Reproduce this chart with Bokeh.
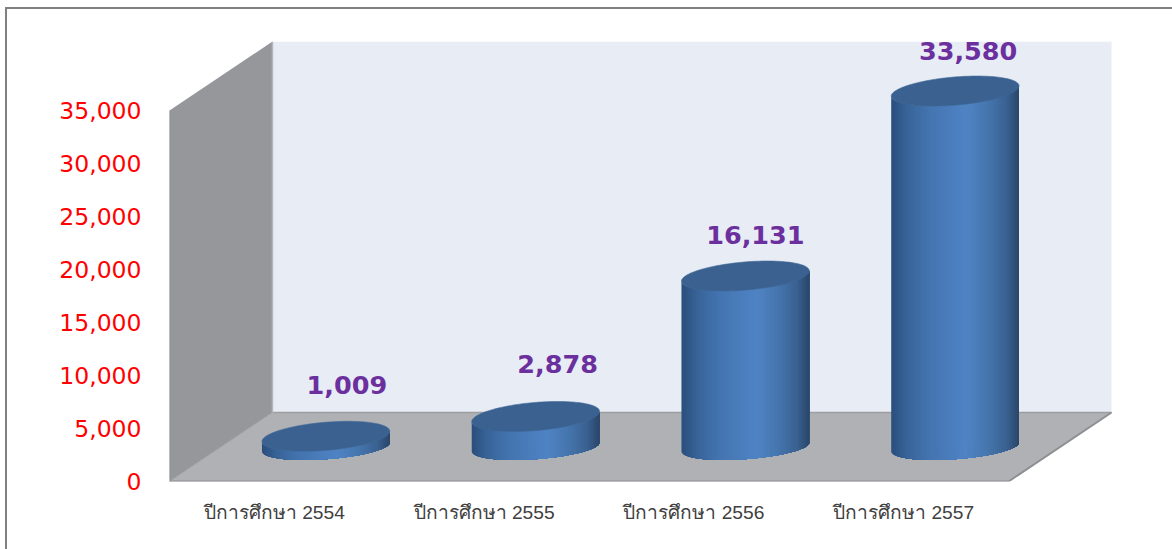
import numpy as np
from bokeh.plotting import figure
from bokeh.embed import file_html
from bokeh.resources import INLINE
from bokeh.models import ColumnDataSource, FixedTicker, Range1d
from bokeh.core.properties import value

categories = ["ปีการศึกษา 2554", "ปีการศึกษา 2555", "ปีการศึกษา 2556", "ปีการศึกษา 2557"]
students = [1009, 2878, 16131, 33580]
value_ticks = [0, 5000, 10000, 15000, 20000, 25000, 30000, 35000]
label_texts = ["1,009", "2,878", "16,131", "33,580"]

# ---- layout: one category band and the axis maximum on screen
BAND_PX = 209.75
AXIS_MAX = 35000
AXIS_PX = 371.0
# the figure sits at (7, 9) inside the page; its left and top CSS borders are the chart-area border
FIG_X, FIG_Y = 7, 9
FRAME_L, FRAME_T, FRAME_W, FRAME_H = 169 - FIG_X, 0, 1172 - 169, 481 - FIG_Y
UX = 1 / BAND_PX
UY = AXIS_MAX / AXIS_PX
DEPTH_X, DEPTH_Y = 103 * UX, 69 * UY
WALL_W = len(categories)

p = figure(width=1172 - FIG_X, height=549 - FIG_Y, output_backend="svg", toolbar_location=None,
           x_range=Range1d(0, FRAME_W * UX), y_range=Range1d(0, FRAME_H * UY),
           frame_width=FRAME_W, frame_height=FRAME_H,
           min_border_left=FRAME_L, min_border_top=FRAME_T, min_border_right=0, min_border_bottom=68,
           background_fill_color="white", border_fill_color="white",
           styles={"position": "absolute", "left": "5px", "top": "7px", "box-sizing": "content-box",
                   "border-left": "2px solid #808080", "border-top": "2px solid #808080"})
p.outline_line_color = None
p.grid.visible = False

# axes
p.yaxis.ticker = FixedTicker(ticks=value_ticks)
p.yaxis.major_label_overrides = {v: f"{v:,}" for v in value_ticks}
p.yaxis.major_label_text_color = "#FF0000"
p.yaxis.major_label_text_font = "DejaVu Sans"
p.yaxis.major_label_text_font_size = "23.5px"
p.yaxis.major_label_standoff = 22
p.yaxis.axis_line_color = None
p.yaxis.major_tick_line_color = None
p.yaxis.minor_tick_line_color = None

band_centres = [i + 0.5 for i in range(len(categories))]
p.xaxis.ticker = FixedTicker(ticks=band_centres)
p.xaxis.major_label_overrides = dict(zip(band_centres, categories))
p.xaxis.major_label_text_color = "#404040"
p.xaxis.major_label_text_font = "Liberation Sans"
p.xaxis.major_label_text_font_size = "19.2px"
p.xaxis.major_label_standoff = 14
p.xaxis.axis_line_color = None
p.xaxis.major_tick_line_color = None
p.xaxis.minor_tick_line_color = None

# back wall, side wall, floor
p.patch([DEPTH_X, DEPTH_X + WALL_W, DEPTH_X + WALL_W, DEPTH_X],
        [DEPTH_Y, DEPTH_Y, DEPTH_Y + AXIS_MAX, DEPTH_Y + AXIS_MAX],
        fill_color="#E8ECF5", line_color=None)
p.patch([0, DEPTH_X, DEPTH_X, 0],
        [0, DEPTH_Y, DEPTH_Y + AXIS_MAX, AXIS_MAX],
        fill_color="#96979A", line_color=None)
p.patch([0, DEPTH_X, DEPTH_X + WALL_W, WALL_W],
        [0, DEPTH_Y, DEPTH_Y, 0],
        fill_color="#AFB1B5", line_color=None)
p.line([DEPTH_X, DEPTH_X + WALL_W], [DEPTH_Y, DEPTH_Y], line_color="#9C9EA1", line_width=1.5)
p.line([DEPTH_X, DEPTH_X], [DEPTH_Y, DEPTH_Y + AXIS_MAX], line_color="#B4B6BA", line_width=1.5)
p.line([0, DEPTH_X], [0, DEPTH_Y], line_color="#A2A4A7", line_width=1)
p.line([0, 0, WALL_W, DEPTH_X + WALL_W], [AXIS_MAX, 0, 0, DEPTH_Y], line_color="#8E9093", line_width=2)

# cylinders
U, VX, VY = 60.0, 22.0, 15.0
BASE_FLATTEN = 0.87
t0 = np.arctan2(VX, U)
stops = np.array([0.0, 0.12, 0.3, 0.59, 0.75, 0.9, 1.0])
stop_rgb = np.array([[0x2A, 0x4E, 0x7C], [0x38, 0x63, 0x98], [0x44, 0x75, 0xB1], [0x4F, 0x83, 0xC4],
                     [0x46, 0x76, 0xAE], [0x3A, 0x62, 0x92], [0x2A, 0x45, 0x68]])
n_strips = 64
xs_side, ys_side, cols_side = [], [], []
xs_top, ys_top = [], []
for i, v in enumerate(students):
    cx = i + 0.5 + DEPTH_X / 2
    cy = DEPTH_Y / 2
    # front half of the ellipse, left to right
    t = np.linspace(t0 - np.pi, t0, 400)
    fx = U * np.cos(t) + VX * np.sin(t)
    fy = VY * np.sin(t)
    edges = np.linspace(fx[0], fx[-1], n_strips + 1)
    for k in range(n_strips):
        # each strip runs on to the right edge, so the next one paints over it without a seam
        arc = (fx >= edges[k])
        ax = np.concatenate([[edges[k]], fx[arc]])
        ay = np.interp(ax, fx, fy)
        xs_side.append(list(cx + ax * UX) + list(cx + ax[::-1] * UX))
        ys_side.append(list(cy + ay * BASE_FLATTEN * UY) + list(cy + v + ay[::-1] * UY))
        f = (k + 0.5) / n_strips
        rgb = [int(round(np.interp(f, stops, stop_rgb[:, c]))) for c in range(3)]
        cols_side.append("#%02X%02X%02X" % tuple(rgb))
    tt = np.linspace(0, 2 * np.pi, 160)
    xs_top.append(list(cx + (U * np.cos(tt) + VX * np.sin(tt)) * UX))
    ys_top.append(list(cy + v + VY * np.sin(tt) * UY))

p.patches(xs_side, ys_side, fill_color=cols_side, line_color=None)
p.patches(xs_top, ys_top, fill_color="#3A618F", line_color="#416A98", line_width=0.6)

# value labels
label_dx = [21, 22, 10, 13]
label_dy = [-51, -52, -41, -40]
src = ColumnDataSource(dict(
    x=[i + 0.5 + DEPTH_X / 2 for i in range(len(students))],
    y=[DEPTH_Y / 2 + v for v in students],
    text=label_texts, dx=label_dx, dy=label_dy))
p.text("x", "y", text="text", x_offset="dx", y_offset="dy", source=src,
       text_font=value("DejaVu Sans"), text_font_style="bold", text_font_size="25.5px",
       text_color="#6B2F9E", text_align="center", text_baseline="alphabetic")

# the plot area ends at the top of the wall
top = DEPTH_Y + AXIS_MAX
p.patch([0, FRAME_W * UX, FRAME_W * UX, 0], [top, top, FRAME_H * UY, FRAME_H * UY],
        fill_color="white", line_color=None)

open("out.html", "w").write(file_html(p, INLINE))
